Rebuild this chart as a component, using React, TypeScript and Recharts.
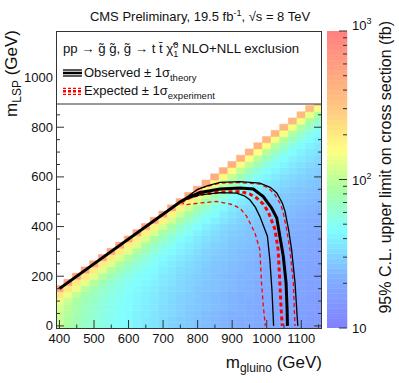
import React from 'react';
import { ComposedChart, BarChart, Bar, XAxis, YAxis, Line, ReferenceArea } from 'recharts';

// gluino mass columns (GeV); each LIMITS column starts at m_LSP = 0 in 25 GeV steps
const GLUINO_MASSES = [400, 425, 450, 475, 500, 525, 550, 575, 600, 625, 650, 675, 700, 725, 750, 775, 800, 825, 850, 875, 900, 925, 950, 975, 1000, 1025, 1050, 1075, 1100, 1125, 1150];
const LSP_STEP = 25;

// 95% CL upper limit on cross section (fb)
const LIMITS = [
  [105, 108, 112, 118, 140, 210, 550],
  [88, 90, 93, 98, 108, 140, 210, 560],
  [76, 77, 79, 82, 85, 100, 138, 205, 560],
  [67, 68, 69, 71, 74, 80, 98, 135, 205, 560],
  [60, 61, 62, 63, 66, 70, 78, 96, 132, 200, 550],
  [54, 55, 56, 57, 59, 62, 66, 76, 95, 130, 200, 550],
  [50, 50, 51, 52, 53, 55, 58, 63, 75, 94, 130, 200, 540],
  [47, 47, 47, 48, 49, 50, 52, 55, 62, 74, 93, 128, 195, 540],
  [44, 44, 44, 45, 45, 46, 48, 50, 54, 61, 73, 92, 126, 195, 530],
  [41, 41, 41, 42, 42, 43, 44, 46, 49, 53, 60, 72, 90, 125, 190, 530],
  [38, 38, 39, 39, 40, 40, 41, 43, 45, 48, 52, 59, 70, 88, 122, 190, 520],
  [36, 36, 36, 37, 37, 38, 39, 40, 42, 44, 47, 51, 58, 69, 87, 120, 185, 520],
  [33, 33, 34, 34, 35, 35, 36, 37, 38, 40, 42, 45, 50, 57, 68, 85, 118, 185, 510],
  [31, 31, 32, 32, 32, 33, 34, 35, 36, 37, 39, 41, 44, 49, 56, 67, 84, 116, 180, 500],
  [29, 29, 30, 30, 30, 31, 32, 32, 33, 34, 36, 38, 40, 43, 48, 55, 66, 83, 115, 180, 500],
  [28, 28, 28, 28, 29, 29, 30, 30, 31, 32, 33, 35, 37, 39, 42, 47, 54, 65, 82, 113, 178, 490],
  [26, 26, 27, 27, 27, 28, 28, 29, 29, 30, 31, 32, 34, 36, 38, 41, 46, 53, 64, 80, 112, 175, 480],
  [25, 25, 25, 26, 26, 26, 27, 27, 28, 28, 29, 30, 31, 33, 35, 37, 40, 45, 52, 63, 79, 110, 172, 470],
  [24, 24, 24, 25, 25, 25, 26, 26, 26, 27, 27, 28, 29, 30, 32, 34, 36, 40, 45, 52, 62, 78, 108, 170, 460],
  [23, 23, 23, 24, 24, 24, 25, 25, 25, 26, 26, 27, 28, 29, 30, 31, 33, 36, 39, 44, 51, 61, 77, 106, 168, 450],
  [22, 22, 22, 23, 23, 23, 24, 24, 24, 25, 25, 26, 26, 27, 28, 29, 31, 33, 35, 38, 43, 50, 60, 76, 104, 165, 440],
  [21, 21, 22, 22, 22, 22, 23, 23, 23, 24, 24, 25, 25, 26, 27, 28, 29, 30, 32, 35, 38, 43, 49, 59, 75, 102, 162, 430],
  [21, 21, 21, 21, 21, 22, 22, 22, 23, 23, 23, 24, 24, 25, 26, 26, 27, 29, 30, 32, 35, 38, 42, 48, 58, 74, 100, 160, 420],
  [20, 20, 20, 20, 21, 21, 21, 21, 22, 22, 22, 23, 23, 24, 25, 25, 26, 27, 29, 30, 32, 35, 38, 42, 48, 57, 73, 98, 158, 410],
  [19, 19, 19, 20, 20, 20, 20, 21, 21, 21, 22, 22, 23, 23, 24, 24, 25, 26, 27, 29, 30, 32, 35, 38, 42, 47, 56, 72, 96, 155, 400],
  [19, 19, 19, 19, 19, 20, 20, 20, 20, 21, 21, 21, 22, 22, 23, 23, 24, 25, 26, 27, 28, 30, 32, 35, 38, 42, 47, 55, 70, 95, 152, 390],
  [18, 18, 18, 18, 19, 19, 19, 19, 20, 20, 20, 21, 21, 21, 22, 22, 23, 24, 25, 26, 27, 28, 30, 32, 35, 38, 42, 46, 54, 69, 93, 150, 380],
  [17, 17, 18, 18, 18, 18, 18, 19, 19, 19, 20, 20, 20, 21, 21, 22, 22, 23, 24, 25, 26, 27, 28, 30, 32, 35, 38, 41, 46, 54, 68, 92, 148, 375],
  [17, 17, 17, 17, 17, 18, 18, 18, 18, 19, 19, 19, 20, 20, 21, 21, 22, 22, 23, 24, 25, 26, 27, 29, 30, 32, 35, 38, 41, 45, 53, 67, 90, 145, 370],
  [16, 16, 16, 17, 17, 17, 17, 17, 18, 18, 18, 19, 19, 19, 20, 20, 21, 21, 22, 23, 24, 25, 26, 27, 29, 30, 32, 35, 37, 41, 45, 52, 66, 89, 142, 360],
  [16, 16, 16, 16, 16, 16, 17, 17, 17, 17, 18, 18, 18, 19, 19, 19, 20, 20, 21, 22, 23, 24, 25, 26, 27, 29, 30, 32, 35, 37, 40, 45, 52, 65, 88, 140, 350],
];

// exclusion contours, [m_gluino, m_LSP]
const OBSERVED = [[400, 150], [750, 500], [780, 522], [807, 537], [865, 551], [923, 555], [961, 551], [990, 521], [1014, 475], [1029, 435], [1038, 361], [1048, 280], [1056, 173], [1059, 66], [1060, 0]];
const OBSERVED_UP = [[750, 500], [800, 550], [830, 565], [865, 578], [923, 581], [980, 575], [1010, 558], [1029, 535], [1045, 495], [1053, 461], [1063, 390], [1072, 307], [1082, 173], [1088, 40], [1090, 0]];
const OBSERVED_DOWN = [[750, 500], [780, 517], [807, 528], [865, 537], [913, 535], [935, 524], [951, 508], [967, 478], [980, 441], [1002, 361], [1009, 267], [1015, 147], [1020, 0]];
const EXPECTED = [[752, 500], [780, 518], [807, 530], [865, 539], [923, 541], [950, 532], [971, 515], [990, 490], [1004, 461], [1024, 388], [1033, 307], [1038, 173], [1042, 60], [1045, 0]];
const EXPECTED_UP = [[760, 510], [805, 553], [830, 563], [865, 575], [923, 577], [980, 571], [1005, 555], [1024, 528], [1040, 490], [1048, 455], [1058, 385], [1067, 307], [1077, 173], [1080, 60], [1082, 0]];
const EXPECTED_DOWN = [[750, 500], [765, 488], [807, 495], [855, 501], [903, 488], [925, 470], [942, 441], [966, 374], [980, 307], [985, 173], [990, 80], [996, 0]];

const X_TICKS = [400, 450, 500, 550, 600, 650, 700, 750, 800, 850, 900, 950, 1000, 1050, 1100, 1150];
const Y_TICKS = [0, 50, 100, 150, 200, 250, 300, 350, 400, 450, 500, 550, 600, 650, 700, 750, 800, 850, 900, 950, 1000, 1050, 1100, 1150];
const Z_TICKS = [10, 20, 30, 40, 50, 60, 70, 80, 90, 100, 200, 300, 400, 500, 600, 700, 800, 900, 1000];

const FONT = '"Liberation Sans", Arial, Helvetica, sans-serif';
const AXIS = '#333';

// pastel rainbow, position 0 = 10 fb, 1 = 1000 fb
const STOPS: [number, number[]][] = [
  [0, [128, 128, 255]],
  [0.17, [128, 176, 255]],
  [0.33, [128, 255, 255]],
  [0.47, [170, 255, 160]],
  [0.6, [255, 255, 128]],
  [0.76, [255, 192, 128]],
  [1, [255, 128, 128]],
];

const rgb = (c: number[]) => `rgb(${c.map((v) => Math.round(v)).join(',')})`;

function paletteColor(t: number) {
  const u = Math.min(1, Math.max(0, t));
  for (let i = 1; i < STOPS.length; i++) {
    const [t1, c1] = STOPS[i];
    const [t0, c0] = STOPS[i - 1];
    if (u <= t1) {
      const f = (u - t0) / (t1 - t0);
      return rgb(c0.map((c, k) => c + (c1[k] - c) * f));
    }
  }
  return rgb(STOPS[STOPS.length - 1][1]);
}

const limitColor = (v: number) => paletteColor((Math.log10(v) - 1) / 2);

const cells = GLUINO_MASSES.flatMap((mg, i) =>
  LIMITS[i].map((v, j) => ({ mg, ml: j * LSP_STEP, v }))
);

// colour bar: one stacked bar of thin bands, in log10(fb) from 1 to 3
const BAND_COUNT = 60;
const bandColors = Array.from({ length: BAND_COUNT }, (_, k) => paletteColor((k + 0.5) / BAND_COUNT));
const barRow: Record<string, number | string> = { name: 'z', base: 1 };
bandColors.forEach((_, k) => { barRow[`b${k}`] = 2 / BAND_COUNT; });

const toPoints = (arr: number[][]) => arr.map(([mg, ml]) => ({ mg, ml }));

const XTick = ({ x, y, payload }: any) => {
  const v = payload.value;
  const major = v % 100 === 0;
  return (
    <g>
      <line x1={x} x2={x} y1={y} y2={y - (major ? 9 : 4.5)} stroke={AXIS} />
      {major && v <= 1100 && (
        <text x={x} y={y + 14} textAnchor="middle" fontSize={13} fill="#111">{v}</text>
      )}
    </g>
  );
};

const YTick = ({ x, y, payload }: any) => {
  const v = payload.value;
  const major = v % 200 === 0;
  return (
    <g>
      <line x1={x} x2={x + (major ? 8 : 4)} y1={y} y2={y} stroke={AXIS} />
      {major && v <= 1000 && (
        <text x={x - 3} y={y + 4.5} textAnchor="end" fontSize={13} fill="#111">{v}</text>
      )}
    </g>
  );
};

const YTickRight = ({ x, y, payload }: any) => {
  const major = payload.value % 200 === 0;
  return <line x1={x - (major ? 8 : 4)} x2={x} y1={y} y2={y} stroke={AXIS} />;
};

const ZTick = ({ x, y, payload }: any) => {
  const lg = payload.value;
  const exp = Math.round(lg);
  const major = Math.abs(lg - exp) < 1e-6;
  return (
    <g>
      <line x1={x - (major ? 8 : 4)} x2={x} y1={y} y2={y} stroke={AXIS} />
      {major && (
        <text x={x + 5} y={exp === 3 ? y - 1 : y + 5} fontSize={13} fill="#111">
          10{exp > 1 && <tspan dy={-6} fontSize={9}>{exp}</tspan>}
        </text>
      )}
    </g>
  );
};

const ExclusionPlot = () => (
  <ComposedChart width={399} height={383} margin={{ top: 31, right: 57, bottom: 0, left: 0 }}>
    <XAxis type="number" dataKey="mg" domain={[390, 1160]} ticks={X_TICKS} interval={0}
      tick={(p: any) => <XTick {...p} />} tickSize={0} tickMargin={0} axisLine={false} tickLine={false}
      height={54} allowDataOverflow />
    <YAxis type="number" domain={[-12.5, 1187.5]} ticks={Y_TICKS} interval={0}
      tick={(p: any) => <YTick {...p} />} tickSize={0} tickMargin={0} axisLine={false} tickLine={false}
      width={56} allowDataOverflow />
    <YAxis yAxisId="right" orientation="right" type="number" domain={[-12.5, 1187.5]} ticks={Y_TICKS}
      interval={0} tick={(p: any) => <YTickRight {...p} />} tickSize={0} tickMargin={0} axisLine={false}
      tickLine={false} width={20} allowDataOverflow />
    {cells.map((c) => {
      const col = limitColor(c.v);
      return (
        <ReferenceArea key={`${c.mg}-${c.ml}`} x1={c.mg - 12.5} x2={c.mg + 12.5} y1={c.ml - 12.5} y2={c.ml + 12.5}
          fill={col} fillOpacity={1} stroke={col} strokeWidth={0.5} ifOverflow="hidden" />
      );
    })}
    <Line data={toPoints(EXPECTED_DOWN)} dataKey="ml" stroke="#ff0000" strokeWidth={1.3} strokeDasharray="4 3" dot={false} isAnimationActive={false} type="linear" />
    <Line data={toPoints(EXPECTED_UP)} dataKey="ml" stroke="#ff0000" strokeWidth={1.3} strokeDasharray="4 3" dot={false} isAnimationActive={false} type="linear" />
    <Line data={toPoints(EXPECTED)} dataKey="ml" stroke="#ff0000" strokeWidth={3} strokeDasharray="4 3" dot={false} isAnimationActive={false} type="linear" />
    <Line data={toPoints(OBSERVED_DOWN)} dataKey="ml" stroke="#000" strokeWidth={1.3} dot={false} isAnimationActive={false} type="linear" />
    <Line data={toPoints(OBSERVED_UP)} dataKey="ml" stroke="#000" strokeWidth={1.3} dot={false} isAnimationActive={false} type="linear" />
    <Line data={toPoints(OBSERVED)} dataKey="ml" stroke="#000" strokeWidth={3} dot={false} isAnimationActive={false} type="linear" />
  </ComposedChart>
);

const ColorBar = () => (
  <BarChart width={72} height={383} data={[barRow]} margin={{ top: 31, right: 0, bottom: 55, left: 0 }}
    barCategoryGap={0} barGap={0}>
    <XAxis dataKey="name" hide />
    <YAxis orientation="right" type="number" domain={[1, 3]} ticks={Z_TICKS.map((v) => Math.log10(v))} interval={0}
      tick={(p: any) => <ZTick {...p} />} tickSize={0} tickMargin={0} axisLine={false} tickLine={false}
      width={52} allowDataOverflow />
    <Bar dataKey="base" stackId="z" fill="none" isAnimationActive={false} />
    {bandColors.map((col, k) => (
      <Bar key={k} dataKey={`b${k}`} stackId="z" fill={col} stroke={col} strokeWidth={0.5} isAnimationActive={false} />
    ))}
  </BarChart>
);

export default function App() {
  return (
    <div style={{ position: 'absolute', left: 0, top: 0, width: 399, height: 383, background: '#fff', fontFamily: FONT }}>
      <div style={{ position: 'absolute', left: 0, top: 0 }}>
        <ExclusionPlot />
      </div>
      <div style={{ position: 'absolute', left: 327, top: 0 }}>
        <ColorBar />
      </div>
      <svg width={399} height={383} style={{ position: 'absolute', left: 0, top: 0, pointerEvents: 'none' }} fontFamily={FONT}>
        <rect x={56.5} y={31.5} width={265} height={297} fill="none" stroke={AXIS} />
        <rect x={56.5} y={31.5} width={265} height={72.5} fill="#fff" stroke={AXIS} />
        <text x={200} y={20.5} textAnchor="middle" fontSize={13} fill="#111">
          CMS Preliminary, 19.5 fb<tspan dy={-5} fontSize={9}>-1</tspan><tspan dy={5}>, √s = 8 TeV</tspan>
        </text>
        <text x={63} y={52.5} fontSize={13.2} fill="#111">
          pp → g̃ g̃, g̃ → t t̄ χ̃<tspan dy={-5} fontSize={9}>0</tspan><tspan dx={-5} dy={9} fontSize={9}>1</tspan><tspan dy={-4}>  NLO+NLL exclusion</tspan>
        </text>
        <line x1={63} x2={82} y1={70} y2={70} stroke="#000" strokeWidth={1.3} />
        <line x1={63} x2={82} y1={73} y2={73} stroke="#000" strokeWidth={2.5} />
        <line x1={63} x2={82} y1={76} y2={76} stroke="#000" strokeWidth={1.3} />
        <text x={84} y={76.5} fontSize={13} fill="#111">
          Observed ± 1σ<tspan dy={4} fontSize={9.5}>theory</tspan>
        </text>
        <line x1={63} x2={82} y1={88.3} y2={88.3} stroke="#ff0000" strokeWidth={1.3} strokeDasharray="3 2" />
        <line x1={63} x2={82} y1={91.3} y2={91.3} stroke="#ff0000" strokeWidth={2.5} strokeDasharray="3 2" />
        <line x1={63} x2={82} y1={94.3} y2={94.3} stroke="#ff0000" strokeWidth={1.3} strokeDasharray="3 2" />
        <text x={84} y={94.5} fontSize={13} fill="#111">
          Expected ± 1σ<tspan dy={4} fontSize={9.5}>experiment</tspan>
        </text>
        <text transform="rotate(-90)" x={-30} y={17} textAnchor="end" fontSize={17} fill="#111">
          m<tspan dy={4} fontSize={12}>LSP</tspan><tspan dy={-4}> (GeV)</tspan>
        </text>
        <text x={322} y={368} textAnchor="end" fontSize={17} fill="#111">
          m<tspan dy={4} fontSize={12}>gluino</tspan><tspan dy={-4}> (GeV)</tspan>
        </text>
        <text transform="rotate(-90)" x={-21} y={390.5} textAnchor="end" fontSize={16} fill="#111">
          95% C.L. upper limit on cross section (fb)
        </text>
      </svg>
    </div>
  );
}
